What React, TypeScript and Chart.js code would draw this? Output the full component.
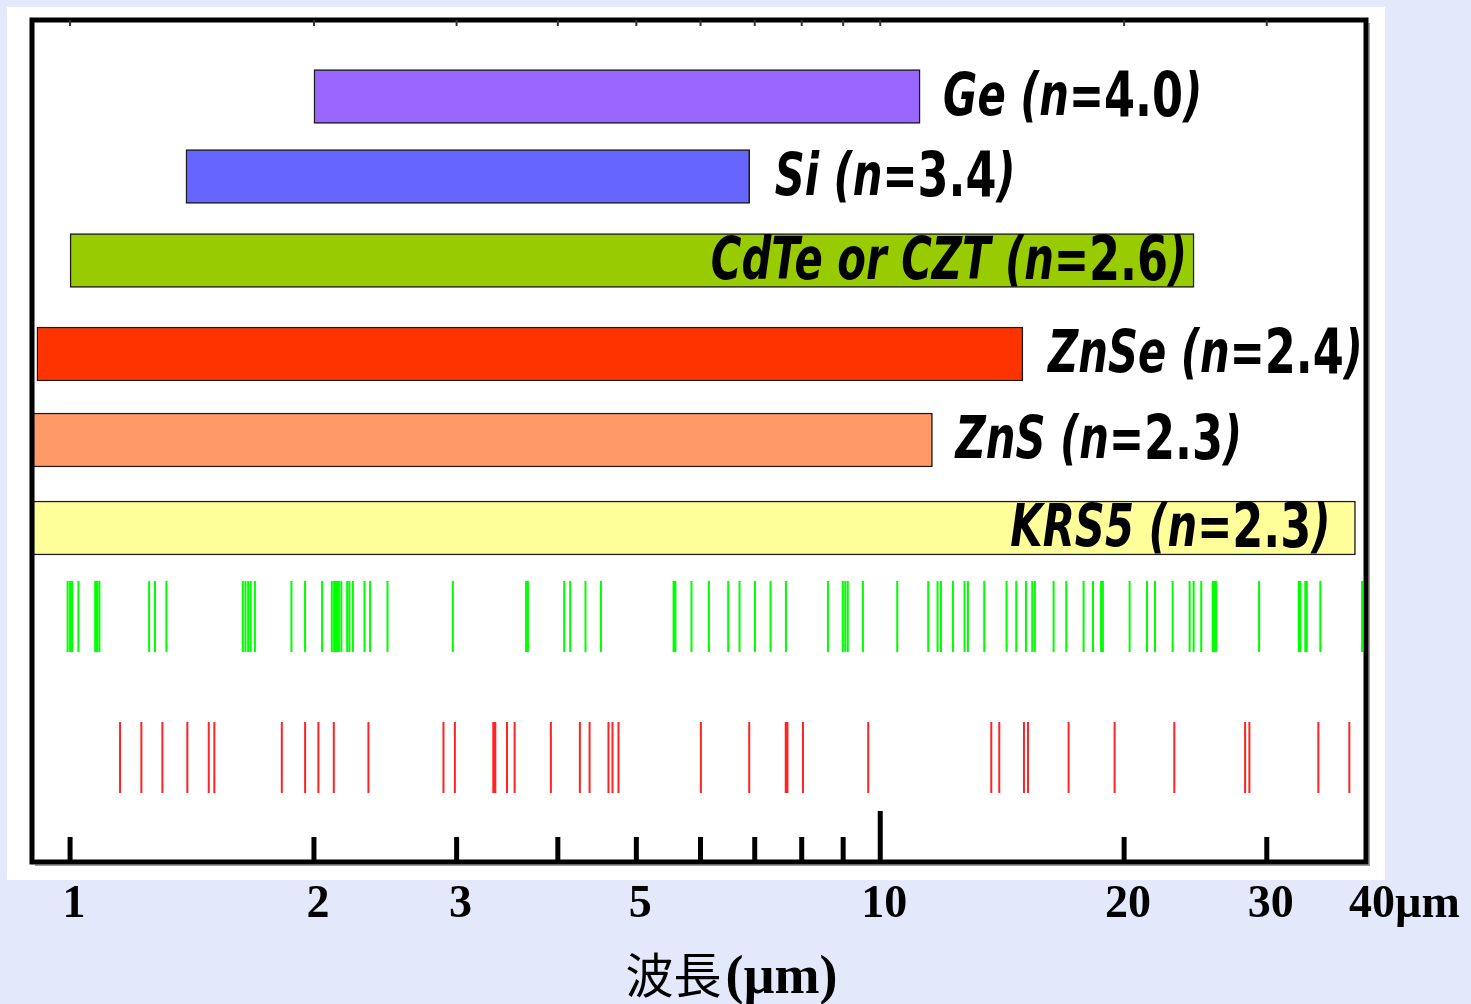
import React, { useEffect, useRef } from "react";
import { Chart, registerables } from "chart.js";

Chart.register(...registerables);

// ---- data ----
const materials = ["Ge", "Si", "CdTe or CZT", "ZnSe", "ZnS", "KRS5"];
const refractiveIndex = ["4.0", "3.4", "2.6", "2.4", "2.3", "2.3"];
const rangeStart = [2.0, 1.39, 1.0, 0.91, 0.9, 0.9];
const rangeEnd = [11.2, 6.9, 24.4, 15.0, 11.6, 38.6];
const rowPosition = [9.09, 18.59, 28.56, 39.67, 49.88, 60.33];
const barColors = ["#9966ff", "#6666ff", "#99cc00", "#ff3300", "#ff9966", "#ffff99"];
const labelInside = [false, false, true, false, false, true];

const greenLines = [
  0.993, 1.0, 1.006, 1.024, 1.074, 1.08, 1.087, 1.252, 1.273, 1.315,
  1.634, 1.646, 1.659, 1.671, 1.691, 1.876, 1.95, 2.047, 2.104, 2.118,
  2.125, 2.135, 2.147, 2.162, 2.198, 2.212, 2.234, 2.309, 2.346, 2.465,
  2.968, 3.655, 3.674, 4.073, 4.143, 4.327, 4.521, 5.558, 5.587, 5.848,
  6.145, 6.492, 6.704, 7.004, 7.322, 7.649, 8.619, 8.99, 9.054, 9.119,
  9.52, 10.495, 11.462, 11.769, 11.883, 12.295, 12.707, 12.83, 13.44,
  14.32, 14.72, 15.132, 15.405, 15.52, 16.368, 16.969, 17.824, 18.307,
  18.733, 18.829, 20.316, 21.345, 21.836, 22.957, 24.093, 24.369, 24.902,
  25.731, 25.863, 25.988, 29.352, 32.857, 33.0, 33.472, 33.615, 34.935, 39.332,
];
const greenRow = [66.63, 75.06];

const redLines = [
  1.1527, 1.2247, 1.3, 1.3956, 1.4831, 1.5069, 1.8254, 1.9503, 2.0254,
  2.116, 2.335, 2.8899, 2.9852, 3.3296, 3.3486, 3.462, 3.5376, 3.9217,
  4.2587, 4.3775, 4.6193, 4.6721, 4.7524, 6.0066, 6.8915, 7.6449, 7.682,
  8.0286, 9.6648, 13.711, 14.026, 15.046, 15.218, 17.081, 19.466, 23.068,
  28.207, 28.554, 34.736, 37.936,
];
const redRow = [83.37, 91.8];

const xMin = 0.9;
const xMax = 40;
const xTicks = [1, 2, 3, 4, 5, 6, 7, 8, 9, 10, 20, 30, 40];
const xTickLabels: Record<number, string> = {
  1: "1", 2: "2", 3: "3", 5: "5", 10: "10", 20: "20", 30: "30", 40: "40",
};
const unitSuffix = "µm";
const axisTitleMain = "波長";
const axisTitleUnit = "(µm)";

// ---- styles ----
const TICK_FONT_SIZE = 46;
const TICK_PAD = 16;
const TICK_OFFSET = 4;
const TICK_FAMILY = '"Liberation Serif", "DejaVu Serif", serif';
const TICK_FONT = `bold ${TICK_FONT_SIZE}px ${TICK_FAMILY}`;
const LABEL_TEXT_FONT = `bold italic 58px "DejaVu Sans", sans-serif`;
const LABEL_NUM_FONT = `bold 62px "DejaVu Sans", sans-serif`;
const LABEL_SCALE_X = 0.72;
const labelGap = [23, 25, 7, 25, 23, 25];

const makeSegments = (waves: number[], row: number[]) =>
  waves.flatMap((w) => [
    { x: w, y: row[0] },
    { x: w, y: row[1] },
    { x: w, y: null as any },
  ]);

const decorPlugin = {
  id: "decor",
  beforeDraw(chart: any) {
    const ctx = chart.ctx;
    ctx.save();
    ctx.fillStyle = "#e4e8fb";
    ctx.fillRect(0, 0, chart.width, chart.height);
    ctx.fillStyle = "#ffffff";
    ctx.fillRect(7, 7, 1378, 873);
    ctx.restore();
  },
  afterDatasetsDraw(chart: any) {
    const ctx = chart.ctx;
    const xs = chart.scales.x;
    const ys = chart.scales.y;
    const ca = chart.chartArea;

    // bar labels
    ctx.save();
    ctx.fillStyle = "#000";
    ctx.textBaseline = "middle";
    ctx.textAlign = "left";
    materials.forEach((m, i) => {
      const parts: [string, string][] = [
        [`${m} (n=`, LABEL_TEXT_FONT],
        [refractiveIndex[i], LABEL_NUM_FONT],
        [")", LABEL_TEXT_FONT],
      ];
      const widths = parts.map(([t, f]) => {
        ctx.font = f;
        return ctx.measureText(t).width;
      });
      const total = widths.reduce((a, b) => a + b, 0) * LABEL_SCALE_X;
      const endPx = xs.getPixelForValue(rangeEnd[i]);
      const yPx = ys.getPixelForValue(rowPosition[i]) + 3;
      const startX = labelInside[i] ? endPx - labelGap[i] - total : endPx + labelGap[i];
      ctx.save();
      ctx.translate(startX, yPx);
      ctx.scale(LABEL_SCALE_X, 1);
      let cx = 0;
      parts.forEach(([t, f], k) => {
        ctx.font = f;
        ctx.fillText(t, cx, 0);
        cx += widths[k];
      });
      ctx.restore();
    });
    ctx.restore();

    // frame
    ctx.save();
    const L = ca.left - 1;
    const T = ca.top;
    const R = ca.right - 2;
    const B = ca.bottom;
    ctx.strokeStyle = "#999";
    ctx.lineWidth = 1.5;
    ctx.beginPath();
    ctx.moveTo(R + 3.2, T + 3);
    ctx.lineTo(R + 3.2, B + 3.2);
    ctx.lineTo(L + 3, B + 3.2);
    ctx.stroke();
    ctx.strokeStyle = "#000";
    ctx.lineWidth = 5;
    ctx.strokeRect(L, T, R - L, B - T);

    // ticks
    xTicks.forEach((v) => {
      if (v >= xMax) return;
      const px = xs.getPixelForValue(v);
      ctx.lineWidth = 5;
      ctx.beginPath();
      ctx.moveTo(px, B);
      ctx.lineTo(px, B - (v === 10 ? 51 : 25));
      ctx.stroke();
      ctx.lineWidth = 2;
      ctx.strokeStyle = "#333";
      ctx.beginPath();
      ctx.moveTo(px, T);
      ctx.lineTo(px, T + 6);
      ctx.stroke();
      ctx.strokeStyle = "#000";
    });
    ctx.restore();
  },
  afterDraw(chart: any) {
    const ctx = chart.ctx;
    const xs = chart.scales.x;
    ctx.save();
    ctx.fillStyle = "#000";
    // unit after last tick label
    ctx.font = TICK_FONT;
    ctx.textBaseline = "middle";
    ctx.textAlign = "left";
    const px40 = xs.getPixelForValue(40) + TICK_OFFSET;
    const w40 = ctx.measureText("40").width;
    const yLab = xs.top + TICK_PAD + (TICK_FONT_SIZE * 1.2) / 2;
    ctx.fillText(unitSuffix, px40 + w40 / 2, yLab);

    // axis title
    const f1 = `48px "Noto Sans CJK JP", sans-serif`;
    const f2 = `bold 54px ${TICK_FAMILY}`;
    ctx.font = f1;
    const w1 = ctx.measureText(axisTitleMain).width;
    ctx.font = f2;
    const w2 = ctx.measureText(axisTitleUnit).width;
    const cx = chart.width / 2 - 4;
    const start = cx - (w1 + w2 + 4) / 2;
    ctx.textBaseline = "alphabetic";
    ctx.font = f1;
    ctx.fillText(axisTitleMain, start, 993);
    ctx.font = f2;
    ctx.fillText(axisTitleUnit, start + w1 + 4, 993);
    ctx.restore();
  },
};

export default function App() {
  const ref = useRef<HTMLCanvasElement>(null);
  useEffect(() => {
    document.body.style.margin = "0";
    document.body.style.background = "#e4e8fb";
    const canvas = ref.current!;
    const chart = new Chart(canvas, {
      type: "bar",
      data: {
        datasets: [
          {
            type: "bar",
            indexAxis: "y",
            data: materials.map((_, i) => ({
              x: [rangeStart[i], rangeEnd[i]],
              y: rowPosition[i],
            })) as any,
            backgroundColor: barColors,
            borderColor: "#1a1a1a",
            borderWidth: 1.5,
            borderSkipped: false,
            barThickness: 54,
          } as any,
          {
            type: "line",
            data: makeSegments(greenLines, greenRow) as any,
            borderColor: "#00ff00",
            borderWidth: 2,
            pointRadius: 0,
            spanGaps: false,
            tension: 0,
            borderCapStyle: "butt",
          } as any,
          {
            type: "line",
            data: makeSegments(redLines, redRow) as any,
            borderColor: "#ff2424",
            borderWidth: 2,
            pointRadius: 0,
            spanGaps: false,
            tension: 0,
            borderCapStyle: "butt",
          } as any,
        ],
      },
      options: {
        responsive: false,
        animation: false,
        devicePixelRatio: 1,
        layout: { padding: { left: 33, right: 103, top: 20, bottom: 0 } },
        plugins: { legend: { display: false }, tooltip: { enabled: false } },
        scales: {
          x: {
            type: "logarithmic",
            min: xMin,
            max: xMax,
            offset: false,
            position: "bottom",
            grid: { display: false, drawTicks: false },
            border: { display: false },
            afterBuildTicks: (scale: any) => {
              scale.ticks = xTicks.map((v) => ({ value: v }));
            },
            afterFit: (scale: any) => {
              scale.height = 142;
            },
            ticks: {
              autoSkip: false,
              maxRotation: 0,
              minRotation: 0,
              padding: TICK_PAD,
              labelOffset: TICK_OFFSET,
              color: "#000",
              font: {
                size: TICK_FONT_SIZE,
                weight: "bold",
                family: TICK_FAMILY,
              },
              callback: (v: any) => xTickLabels[Number(v)] ?? "",
            },
          },
          y: {
            type: "linear",
            min: 0,
            max: 100,
            reverse: true,
            offset: false,
            display: false,
          },
        },
      } as any,
      plugins: [decorPlugin],
    });
    return () => chart.destroy();
  }, []);
  return (
    <canvas
      ref={ref}
      width={1471}
      height={1004}
      style={{ display: "block", width: 1471, height: 1004 }}
    />
  );
}
